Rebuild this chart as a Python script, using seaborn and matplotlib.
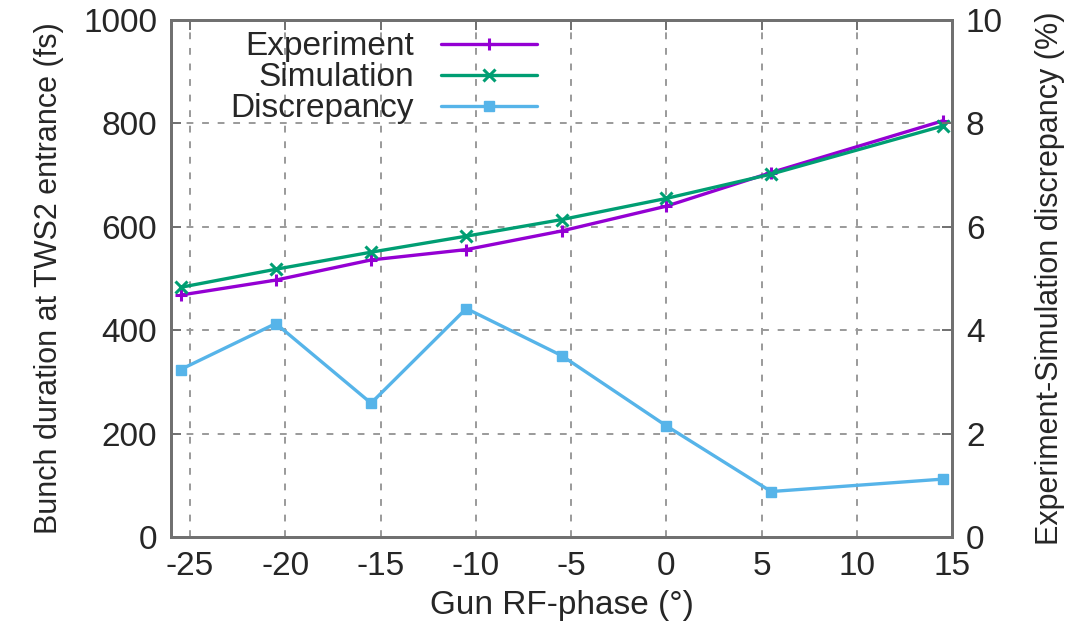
import numpy as np
import pandas as pd
import matplotlib
matplotlib.use("Agg")
import matplotlib.pyplot as plt
import seaborn as sns

phase = [-25.5, -20.5, -15.5, -10.5, -5.5, 0.0, 5.5, 14.5]
experiment = [468, 497, 536, 556, 592, 640, 705, 805]
simulation = [483, 518, 551, 582, 614, 655, 702, 795]
discrepancy = [3.24, 4.13, 2.59, 4.42, 3.51, 2.15, 0.88, 1.12]

x_ticks = [-25, -20, -15, -10, -5, 0, 5, 10, 15]
y_ticks = [0, 200, 400, 600, 800, 1000]
y2_ticks = [0, 2, 4, 6, 8, 10]

df = pd.DataFrame({"phase": phase, "Experiment": experiment,
                   "Simulation": simulation, "Discrepancy": discrepancy})

sns.set_theme(style="white")
plt.rcParams["font.family"] = ["Liberation Sans", "DejaVu Sans"]
FS = 24
FSV = 22
frame_col = "#707070"

fig = plt.figure(figsize=(10.65, 6.27), dpi=100)
ax = fig.add_axes([0.1606, 0.1435, 0.7334, 0.8245])
ax2 = ax.twinx()

c_exp = "#9400d3"
c_sim = "#009e73"
c_dis = "#56b4e9"
lw = 2.4

sns.lineplot(data=df, x="phase", y="Experiment", ax=ax, color=c_exp, lw=lw,
             marker="+", markersize=9, markeredgewidth=2.2, markeredgecolor=c_exp,
             label="Experiment", legend=False)
sns.lineplot(data=df, x="phase", y="Simulation", ax=ax, color=c_sim, lw=lw,
             marker="x", markersize=8, markeredgewidth=2.2, markeredgecolor=c_sim,
             label="Simulation", legend=False)
sns.lineplot(data=df, x="phase", y="Discrepancy", ax=ax2, color=c_dis, lw=lw,
             marker="s", markersize=7, markeredgewidth=1.0, markeredgecolor=c_dis,
             label="Discrepancy", legend=False)

ax.set_xlim(-26, 15)
ax.set_ylim(0, 1000)
ax2.set_ylim(0, 10)
ax.set_xticks(x_ticks)
ax.set_xticklabels([str(t) for t in x_ticks])
ax.set_yticks(y_ticks)
ax2.set_yticks(y2_ticks)

ax.grid(True, color="#9a9a9a", linestyle=(0, (3.5, 4.5)), lw=1.4)
ax.set_axisbelow(True)

for a in (ax, ax2):
    for s in a.spines.values():
        s.set_color(frame_col)
        s.set_linewidth(2.0)
        s.set_visible(True)

ax.tick_params(axis="both", which="major", direction="in", length=7, width=1.4,
               color=frame_col, labelsize=FS, pad=10, top=True, right=False)
ax2.tick_params(axis="y", direction="in", length=7, width=1.4, color=frame_col,
                labelsize=FS, pad=10)

ax.set_xlabel("Gun RF-phase (°)", fontsize=FS, labelpad=6)
ax.set_ylabel("Bunch duration at TWS2 entrance (fs)", fontsize=FSV, labelpad=14)
ax2.set_ylabel("Experiment-Simulation discrepancy (%)", fontsize=FSV, labelpad=23, rotation=90)

h1, l1 = ax.get_legend_handles_labels()
h2, l2 = ax2.get_legend_handles_labels()
leg = ax.legend(h1 + h2, l1 + l2, loc="upper left", bbox_to_anchor=(0.042, 1.03),
                markerfirst=False, frameon=False, fontsize=FS, handlelength=2.9,
                labelspacing=0.0, handletextpad=0.8, borderpad=0.3)

fig.savefig("out.png", dpi=100)
